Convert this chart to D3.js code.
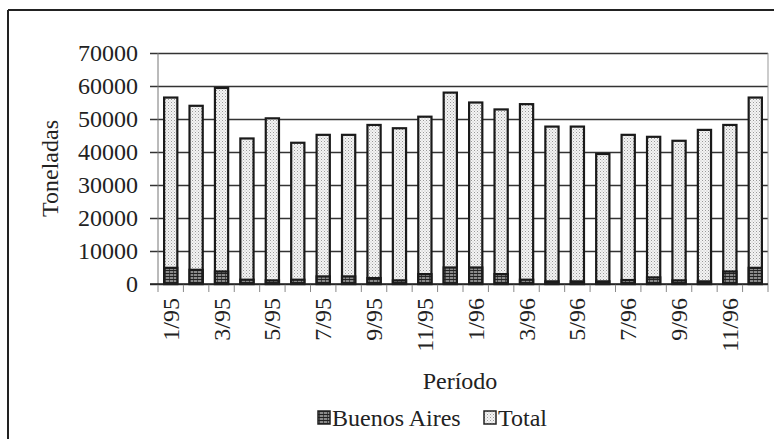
<!DOCTYPE html>
<html>
<head>
<meta charset="utf-8">
<script src="https://cdn.jsdelivr.net/npm/d3@7"></script>
<style>
  body { margin: 0; background: #fff; }
  text { font-family: "Liberation Serif", "Times New Roman", serif; fill: #222; }
</style>
</head>
<body>
<div id="chart"></div>
<script>
// months 1/95 .. 12/96
let periodos = ["1/95", "2/95", "3/95", "4/95", "5/95", "6/95", "7/95", "8/95", "9/95", "10/95", "11/95", "12/95",
    "1/96", "2/96", "3/96", "4/96", "5/96", "6/96", "7/96", "8/96", "9/96", "10/96", "11/96", "12/96"];
let total = [56500, 54000, 59400, 44100, 50200, 42800, 45200, 45200, 48200, 47200, 50700, 58000,
    55000, 52900, 54500, 47700, 47700, 39400, 45200, 44600, 43400, 46700, 48200, 56500];
let buenosAires = [4900, 4300, 3800, 1300, 1100, 1300, 2300, 2300, 1800, 1100, 3000, 5000,
    5000, 3000, 1300, 800, 800, 800, 1200, 2000, 1100, 800, 3800, 4900];
let yTicks = [0, 10000, 20000, 30000, 40000, 50000, 60000, 70000];

function draw() {
    let width = 774,
        height = 439,
        left = 158,
        right = 768,
        top = 53,
        bottom = 284;

    let svg = d3.select("#chart")
        .append("svg")
        .attr("width", width)
        .attr("height", height);

    // fill patterns, printed look
    let defs = svg.append("defs");
    let dots = defs.append("pattern")
        .attr("id", "dots")
        .attr("width", 3)
        .attr("height", 3)
        .attr("patternUnits", "userSpaceOnUse");
    dots.append("rect").attr("width", 3).attr("height", 3).attr("fill", "#f4f4f4");
    dots.append("rect").attr("x", 0).attr("y", 0).attr("width", 1).attr("height", 1).attr("fill", "#999");
    dots.append("rect").attr("x", 1.5).attr("y", 1.5).attr("width", 1).attr("height", 1).attr("fill", "#bbb");

    let hatch = defs.append("pattern")
        .attr("id", "hatch")
        .attr("width", 4)
        .attr("height", 3)
        .attr("patternUnits", "userSpaceOnUse");
    hatch.append("rect").attr("width", 4).attr("height", 3).attr("fill", "#8a8a8a");
    hatch.append("rect").attr("width", 4).attr("height", 1).attr("fill", "#222");
    hatch.append("rect").attr("x", 1).attr("y", 1).attr("width", 1).attr("height", 2).attr("fill", "#444");

    // outer frame (only top and left survive in the scan)
    svg.append("line")
        .attr("x1", 8).attr("x2", width).attr("y1", 10).attr("y2", 10)
        .style("stroke", "#222").style("stroke-width", 2);
    svg.append("line")
        .attr("x1", 8).attr("x2", 8).attr("y1", 10).attr("y2", height)
        .style("stroke", "#222").style("stroke-width", 2);

    let x = d3.scaleBand()
        .domain(periodos)
        .range([left, right])
        .paddingInner(0.48)
        .paddingOuter(0.24);

    let y = d3.scaleLinear()
        .domain([0, 70000])
        .range([bottom, top]);

    // gridlines + y labels
    let y_axis = d3.axisLeft(y)
        .tickValues(yTicks)
        .tickSize(-(right - left))
        .tickPadding(20)
        .tickFormat(d3.format("d"));

    let gy = svg.append("g")
        .attr("transform", "translate(" + left + ",0)")
        .attr("class", "yaxis")
        .call(y_axis);
    gy.select(".domain").remove();
    gy.selectAll(".tick line")
        .attr("x1", -8)
        .style("stroke", "#333")
        .style("stroke-width", 1.5);
    gy.selectAll(".tick text")
        .attr("x", -20)
        .style("font-size", "24px")
        .style("font-family", "Liberation Serif, serif")
        .style("fill", "#222");

    // plot frame sides
    svg.append("line")
        .attr("x1", left).attr("x2", left).attr("y1", top).attr("y2", bottom)
        .style("stroke", "#777").style("stroke-width", 1);
    svg.append("line")
        .attr("x1", right).attr("x2", right).attr("y1", top).attr("y2", bottom)
        .style("stroke", "#999").style("stroke-width", 1);

    // category boundary ticks
    let step = x.step();
    svg.selectAll(".cattick")
        .data(d3.range(periodos.length + 1))
        .enter()
        .append("line")
        .attr("class", "cattick")
        .attr("x1", function (d) { return left + d * step; })
        .attr("x2", function (d) { return left + d * step; })
        .attr("y1", bottom)
        .attr("y2", bottom + 8)
        .style("stroke", "#888")
        .style("stroke-width", 1);

    // total bars
    svg.selectAll(".totalbar")
        .data(periodos)
        .enter()
        .append("rect")
        .attr("class", "totalbar")
        .attr("x", function (d) { return x(d); })
        .attr("width", x.bandwidth())
        .attr("y", function (d, i) { return y(total[i]); })
        .attr("height", function (d, i) { return y(0) - y(total[i]); })
        .style("fill", "url(#dots)")
        .style("stroke", "#1a1a1a")
        .style("stroke-width", 2.2);

    // Buenos Aires bars
    svg.selectAll(".babar")
        .data(periodos)
        .enter()
        .append("rect")
        .attr("class", "babar")
        .attr("x", function (d) { return x(d); })
        .attr("width", x.bandwidth())
        .attr("y", function (d, i) { return y(buenosAires[i]); })
        .attr("height", function (d, i) { return y(0) - y(buenosAires[i]); })
        .style("fill", "url(#hatch)")
        .style("stroke", "#1a1a1a")
        .style("stroke-width", 2.2);

    // baseline
    svg.append("line")
        .attr("x1", 150).attr("x2", right).attr("y1", bottom).attr("y2", bottom)
        .style("stroke", "#222").style("stroke-width", 1.5);

    // x labels, every other month
    svg.selectAll(".xlabel")
        .data(periodos.filter(function (d, i) { return i % 2 === 0; }))
        .enter()
        .append("text")
        .attr("class", "xlabel")
        .attr("transform", function (d) {
            return "translate(" + (x(d) + x.bandwidth() / 2 + 8) + "," + 298 + ") rotate(-90)";
        })
        .style("text-anchor", "end")
        .style("font-size", "24px")
        .text(function (d) { return d; });

    // axis titles
    svg.append("text")
        .attr("transform", "translate(58," + ((top + bottom) / 2) + ") rotate(-90)")
        .style("text-anchor", "middle")
        .style("font-size", "24px")
        .text("Toneladas");

    svg.append("text")
        .attr("x", 460)
        .attr("y", 389)
        .style("text-anchor", "middle")
        .style("font-size", "24px")
        .text("Período");

    // legend
    let legend = [
        { name: "Buenos Aires", fill: "url(#hatch)", x: 318 },
        { name: "Total", fill: "url(#dots)", x: 484 }
    ];
    let lg = svg.selectAll(".legend")
        .data(legend)
        .enter()
        .append("g")
        .attr("class", "legend")
        .attr("transform", function (d) { return "translate(" + d.x + ",411)"; });
    lg.append("rect")
        .attr("width", 12)
        .attr("height", 13)
        .style("fill", function (d) { return d.fill; })
        .style("stroke", "#222")
        .style("stroke-width", 1.5);
    lg.append("text")
        .attr("x", 14)
        .attr("y", 15)
        .style("font-size", "24px")
        .text(function (d) { return d.name; });
}

draw();
</script>
</body>
</html>
